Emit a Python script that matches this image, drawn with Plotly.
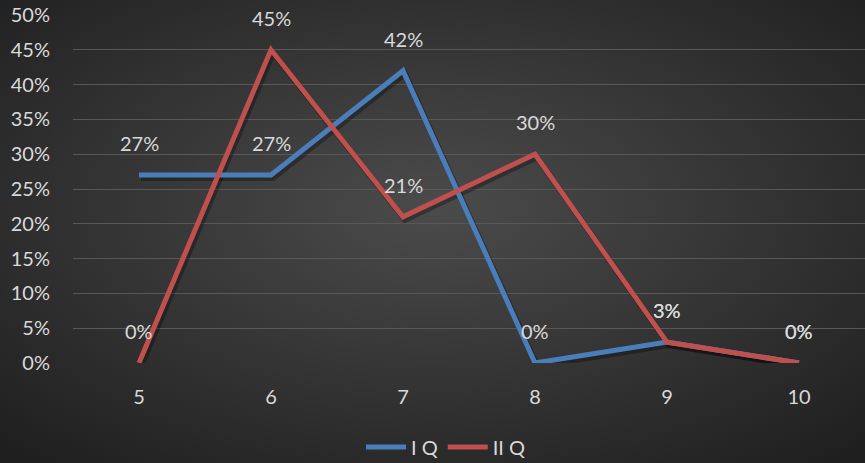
import plotly.graph_objects as go
import base64

categories = ["5", "6", "7", "8", "9", "10"]
iq_values = [0.27, 0.27, 0.42, 0.0, 0.03, 0.0]
iiq_values = [0.0, 0.45, 0.21, 0.30, 0.03, 0.0]
y_ticks = [0, 0.05, 0.10, 0.15, 0.20, 0.25, 0.30, 0.35, 0.40, 0.45, 0.50]
series_names = ["I Q", "II Q"]

W, H = 865, 463
L, R, T, B = 73, 0, 15, 100
PW, PH = W - L - R, H - T - B

FONT = "Lato"
FS = 20
TXT = "#d9d9d9"
BLUE = "#4a7ebb"
RED = "#c0504d"

svg = f'''<svg xmlns="http://www.w3.org/2000/svg" width="{W}" height="{H}" viewBox="0 0 {W} {H}" preserveAspectRatio="none">
<defs><radialGradient id="g" cx="50%" cy="45%" r="72%" gradientUnits="objectBoundingBox">
<stop offset="0" stop-color="#4b4b4b"/><stop offset="1" stop-color="#1f1f1f"/></radialGradient></defs>
<rect width="{W}" height="{H}" fill="url(#g)"/></svg>'''
bg = "data:image/svg+xml;base64," + base64.b64encode(svg.encode()).decode()

# shadow offset (pixels) expressed as axis-range shifts
dy_px, dx_px = 3, 2
dy = dy_px * 0.5 / PH
dx = dx_px * 6.0 / PW

fig = go.Figure()
# soft shadows (overlay axes x2/y2, shifted a few px)
for vals in (iq_values, iiq_values):
    fig.add_trace(go.Scatter(
        x=categories, y=vals, mode="lines", xaxis="x2", yaxis="y2",
        line=dict(color="rgba(0,0,0,0.3)", width=6), hoverinfo="skip",
        showlegend=False))
# main lines (overlay axes x3/y3, identical to x/y, drawn on top)
for name, vals, col in [(series_names[0], iq_values, BLUE), (series_names[1], iiq_values, RED)]:
    fig.add_trace(go.Scatter(
        x=categories, y=vals, mode="lines", name=name, xaxis="x3", yaxis="y3",
        line=dict(color=col, width=5), hoverinfo="skip"))

annotations = []
for vals in (iq_values, iiq_values):
    for i, v in enumerate(vals):
        annotations.append(dict(
            x=i, y=v, xref="x", yref="y", text=f"{round(v*100)}%",
            showarrow=False, yshift=32,
            font=dict(family=FONT, size=FS, color=TXT)))

fig.update_layout(
    width=W, height=H,
    margin=dict(l=L, r=R, t=T, b=B, pad=0, autoexpand=False),
    paper_bgcolor="#333333",
    plot_bgcolor="rgba(0,0,0,0)",
    font=dict(family=FONT, size=FS, color=TXT),
    images=[dict(source=bg, xref="paper", yref="paper",
                 x=-L / PW, y=1 + T / PH, sizex=W / PW, sizey=H / PH,
                 xanchor="left", yanchor="top", sizing="stretch",
                 layer="below")],
    xaxis=dict(type="category", categoryarray=categories, range=[-0.5, 5.5],
               showgrid=False, zeroline=False,
               showline=False, ticks="", tickfont=dict(family=FONT, size=FS, color=TXT),
               ticklabelstandoff=20, fixedrange=True, automargin=False),
    yaxis=dict(range=[0, 0.5], tickvals=y_ticks, tickformat=".0%",
               showgrid=True, gridcolor="#585858", gridwidth=1,
               zeroline=False, showline=False, ticks="",
               tickfont=dict(family=FONT, size=FS, color=TXT),
               ticklabelstandoff=22, fixedrange=True, automargin=False),
    xaxis2=dict(type="category", overlaying="x", range=[-0.5 - dx, 5.5 - dx],
                visible=False, fixedrange=True),
    yaxis2=dict(overlaying="y", range=[dy, 0.5 + dy], visible=False, fixedrange=True),
    xaxis3=dict(type="category", overlaying="x", range=[-0.5, 5.5],
                visible=False, fixedrange=True),
    yaxis3=dict(overlaying="y", range=[0, 0.5], visible=False, fixedrange=True),
    showlegend=True,
    legend=dict(orientation="h", xref="container", x=446 / W, xanchor="center",
                yref="container", y=1 - 447 / H, yanchor="middle",
                bgcolor="rgba(0,0,0,0)",
                font=dict(family=FONT, size=FS, color=TXT),
                itemwidth=40, tracegroupgap=0),
    annotations=annotations,
)

fig.write_html("out.html", config={"displayModeBar": False},
               post_script="document.body.style.margin='0';document.body.style.overflow='hidden';")
